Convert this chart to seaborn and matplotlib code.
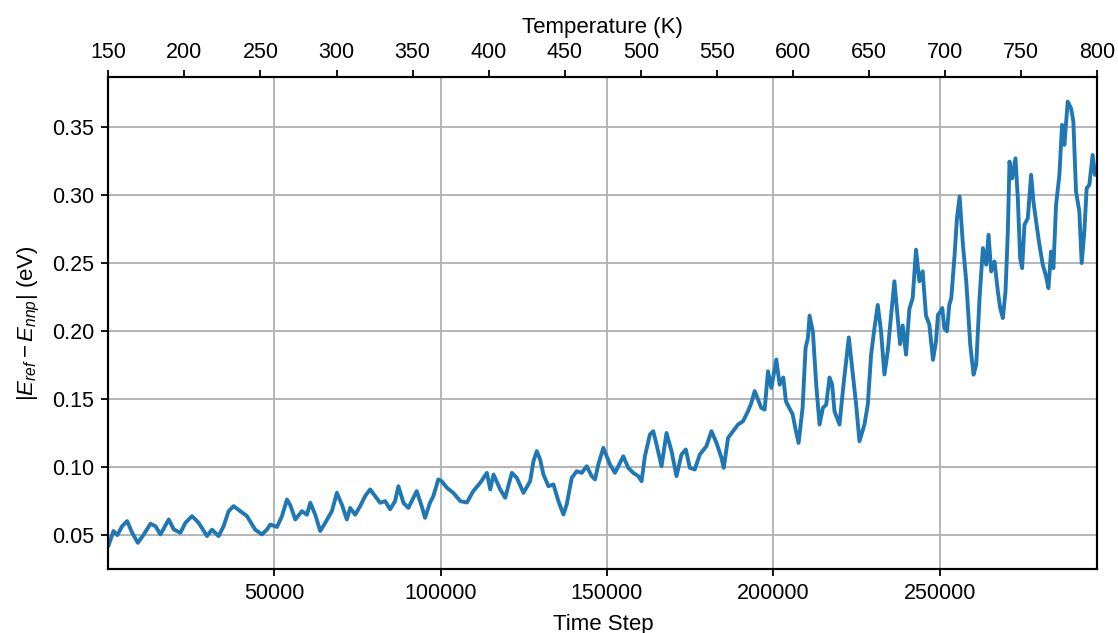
import matplotlib

matplotlib.use("Agg")
import matplotlib.pyplot as plt
import numpy as np
import pandas as pd
import seaborn as sns

# valores leídos a ojo del gráfico de referencia
time_step = [
    100, 1650, 2800, 4260, 5760, 7260, 8960, 10760, 12760, 14260, 15760,
    18260, 19760, 21760, 23260, 25260, 27260, 29760, 31260, 33260, 34760,
    36260, 37760, 39760, 41760, 44260, 46260, 47760, 48800, 50800, 52300,
    53800, 54800, 56300, 58300, 59800, 60800, 62300, 63800, 65300, 67300,
    68800, 70300, 71800, 72800, 74300, 75800, 77300, 78800, 80300, 81800,
    83300, 84800, 86300, 87300, 88800, 90300, 92800, 94300, 95300, 96800,
    97800, 99300, 100300, 101900, 103800, 105900, 107900, 109800, 111900,
    113900, 114900, 115900, 117900, 119400, 121400, 122900, 124900, 126900,
    127900, 128900, 129900, 130900, 132400, 133900, 135400, 136900, 137900,
    139400, 140900, 142400, 143900, 145400, 146400, 147400, 148900, 150900,
    152400, 153900, 154900, 156400, 157900, 159400, 160400, 161400, 162900,
    163900, 164900, 166400, 167900, 169400, 170900, 172400, 173700, 174900,
    176400, 177900, 179900, 181400, 182900, 184400, 185100, 186400, 187900,
    189400, 190900, 192400, 193400, 194400, 195400, 196400, 197400, 198400,
    199400, 200900, 201900, 203000, 203800, 204800, 205800, 206800, 207600,
    208800, 209700, 210400, 210900, 211900, 212900, 213900, 214900, 215900,
    216900, 217700, 218400, 219900, 221100, 221900, 222700, 223700, 224900,
    225900, 227400, 228400, 229400, 230400, 231400, 232400, 233400, 234400,
    235400, 236400, 237400, 238100, 238900, 239900, 240900, 241900, 242900,
    243900, 244900, 245900, 246900, 248000, 248900, 249500, 250100, 250800,
    251400, 252200, 252900, 253500, 254500, 255200, 256000, 257000, 258000,
    259200, 260200, 261000, 262000, 263000, 264000, 264700, 265500, 266500,
    267500, 268200, 269000, 269800, 270500, 271000, 271800, 272800, 273500,
    274200, 274800, 275500, 276500, 277500, 278200, 279000, 280000, 281000,
    282000, 282700, 283500, 284200, 285000, 286000, 286800, 287500, 288500,
    289500, 290200, 291000, 292000, 292700, 293500, 294200, 295000, 296000,
    296700, 297400,
]
energy_error = [
    0.042, 0.053, 0.050, 0.0566, 0.0603, 0.0517, 0.0443, 0.0505, 0.0583,
    0.0566, 0.0505, 0.0615, 0.0542, 0.0517, 0.059, 0.064, 0.059, 0.0493,
    0.054, 0.0493, 0.0566, 0.0676, 0.0713, 0.0676, 0.064, 0.054, 0.0505,
    0.054, 0.0578, 0.056, 0.064, 0.0762, 0.072, 0.0615, 0.0676, 0.065,
    0.0738, 0.065, 0.053, 0.059, 0.0676, 0.0811, 0.0725, 0.0615, 0.070,
    0.065, 0.0713, 0.0787, 0.0836, 0.0787, 0.0738, 0.075, 0.069, 0.075,
    0.086, 0.0738, 0.070, 0.0824, 0.0713, 0.0627, 0.0738, 0.0787, 0.091,
    0.0897, 0.0848, 0.0811, 0.075, 0.074, 0.0824, 0.0885, 0.0958, 0.0836,
    0.0946, 0.0836, 0.0775, 0.0958, 0.0921, 0.0811, 0.0897, 0.1044, 0.1118,
    0.1056, 0.0946, 0.086, 0.0873, 0.075, 0.0652, 0.0726, 0.0921, 0.097,
    0.0958, 0.1007, 0.0934, 0.091, 0.102, 0.1142, 0.102, 0.0958, 0.1032,
    0.108, 0.0995, 0.0958, 0.0934, 0.0897, 0.108, 0.124, 0.1265, 0.1167,
    0.1007, 0.1252, 0.1118, 0.0934, 0.1093, 0.113, 0.0995, 0.0983, 0.1093,
    0.1155, 0.1265, 0.118, 0.107, 0.0995, 0.1216, 0.1265, 0.1314, 0.1338,
    0.1412, 0.1473, 0.156, 0.1498, 0.1436, 0.1424, 0.1705, 0.1583, 0.1792,
    0.1607, 0.166, 0.1485, 0.1436, 0.139, 0.1265, 0.1179, 0.1436, 0.1877,
    0.195, 0.2115, 0.1995, 0.1607, 0.1314, 0.1436, 0.146, 0.166, 0.1607,
    0.141, 0.1314, 0.1607, 0.178, 0.1955, 0.173, 0.146, 0.1191, 0.1314,
    0.146, 0.1828, 0.2023, 0.2194, 0.1995, 0.1682, 0.1853, 0.2115, 0.2368,
    0.2091, 0.1906, 0.2043, 0.1828, 0.2164, 0.2245, 0.26, 0.2368, 0.2441,
    0.2115, 0.205, 0.179, 0.1926, 0.2122, 0.214, 0.2171, 0.2023, 0.2,
    0.2194, 0.2244, 0.2563, 0.2832, 0.2992, 0.2637, 0.2367, 0.1902, 0.1681,
    0.1755, 0.2244, 0.2612, 0.249, 0.271, 0.244, 0.2514, 0.2293, 0.2171,
    0.2097, 0.2293, 0.2734, 0.3249, 0.3126, 0.3273, 0.298, 0.2538, 0.2465,
    0.2784, 0.2832, 0.3151, 0.2955, 0.2808, 0.2637, 0.249, 0.2404, 0.2318,
    0.2587, 0.2465, 0.293, 0.3151, 0.3519, 0.3372, 0.369, 0.3641, 0.3543,
    0.3028, 0.2881, 0.2502, 0.2734, 0.3053, 0.3077, 0.3298, 0.3151, 0.32,
]
temp_range = [150, 800]
temp_ticks = list(range(150, 801, 50))
step_ticks = [50000, 100000, 150000, 200000, 250000]

sns.set_theme(style="ticks")
plt.rcParams["font.family"] = ["Liberation Sans", "DejaVu Sans"]
plt.rcParams["mathtext.fontset"] = "custom"
plt.rcParams["mathtext.rm"] = "Liberation Sans"
plt.rcParams["mathtext.it"] = "Liberation Sans:italic"
plt.rcParams["text.color"] = "black"
plt.rcParams["axes.labelcolor"] = "black"
plt.rcParams["xtick.color"] = "black"
plt.rcParams["ytick.color"] = "black"

df = pd.DataFrame({"step": time_step, "error": energy_error})

fig, ax = plt.subplots(figsize=(11.18, 6.33), dpi=100)
fig.subplots_adjust(left=0.0969, right=0.9815, top=0.878, bottom=0.101)

sns.lineplot(data=df, x="step", y="error", color="#1f77b4", linewidth=2.8, ax=ax)
ax.set_xlim(time_step[0], time_step[-1])
ax.set_ylim(0.025, 0.387)
ax.set_xticks(step_ticks)
ax.set_yticks(np.arange(0.05, 0.36, 0.05))
ax.yaxis.set_major_formatter(matplotlib.ticker.FormatStrFormatter("%.2f"))
ax.grid(True, color="#b0b0b0", linewidth=1.3)
ax.set_xlabel("Time Step", fontsize=16, labelpad=7)
ax.set_ylabel(r"$|E_{ref} - E_{nnp}|$ (eV)", fontsize=16, labelpad=7)
ax.tick_params(labelsize=15.5, length=5, width=1.3, pad=5)

top = ax.twiny()
top.set_xlim(*temp_range)
top.set_xticks(temp_ticks)
top.set_xlabel("Temperature (K)", fontsize=16, labelpad=7)
top.tick_params(labelsize=15.5, length=5, width=1.3, pad=5)
top.grid(False)

for a in (ax, top):
    for spine in a.spines.values():
        spine.set_color("black")
        spine.set_linewidth(1.5)
    a.spines["right"].set_visible(True)
    a.spines["top"].set_visible(True)

fig.savefig("out.png", dpi=100)
